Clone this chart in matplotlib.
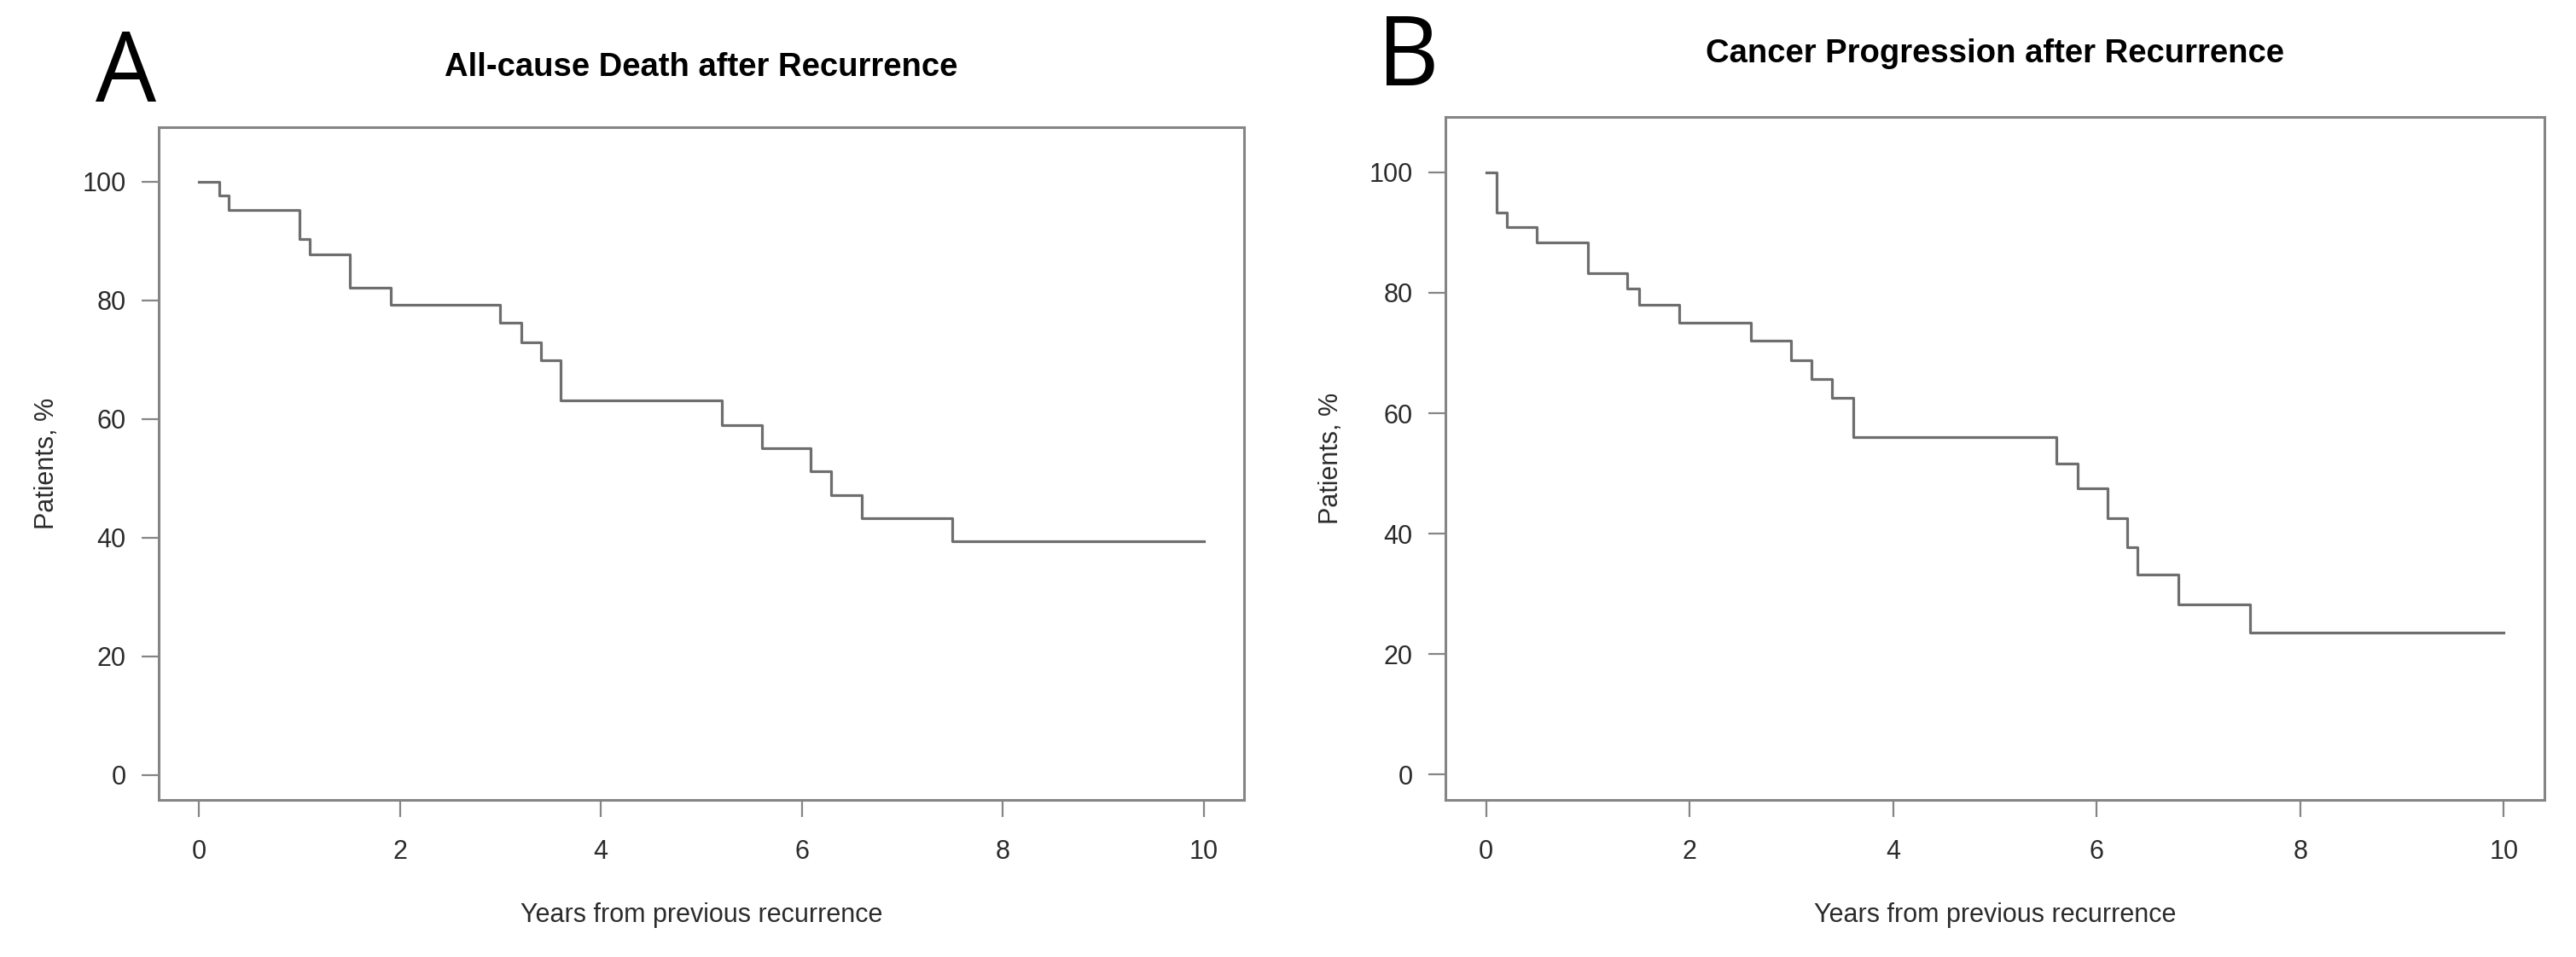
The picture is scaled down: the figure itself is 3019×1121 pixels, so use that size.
import matplotlib
matplotlib.use('Agg')
import matplotlib.pyplot as plt

# Kaplan-Meier style step data
death_years = [0, 0.20, 0.30, 1.00, 1.10, 1.50, 1.91, 3.00, 3.21, 3.40, 3.60,
               5.20, 5.60, 6.09, 6.29, 6.60, 7.50, 10.0]
death_pct = [100, 97.7, 95.3, 90.3, 87.8, 82.2, 79.3, 76.2, 73.0, 69.9, 63.1,
             59.0, 55.1, 51.2, 47.2, 43.3, 39.4, 39.4]

prog_years = [0, 0.10, 0.20, 0.50, 1.00, 1.39, 1.50, 1.90, 2.60, 3.00, 3.20,
              3.40, 3.61, 5.60, 5.81, 6.11, 6.30, 6.40, 6.80, 7.51, 10.0]
prog_pct = [100, 93.3, 90.9, 88.4, 83.3, 80.7, 78.0, 75.0, 72.0, 68.8, 65.7,
            62.6, 56.0, 51.7, 47.5, 42.6, 37.8, 33.2, 28.3, 23.6, 23.6]

x_ticks = [0, 2, 4, 6, 8, 10]
y_ticks = [0, 20, 40, 60, 80, 100]

titles = ['All-cause Death after Recurrence', 'Cancer Progression after Recurrence']
panel_letters = ['A', 'B']
xlabel = 'Years from previous recurrence'
ylabel = 'Patients, %'

plt.rcParams['font.family'] = ['Liberation Sans', 'DejaVu Sans']

W, H = 3019, 1121
fig = plt.figure(figsize=(W / 100, H / 100), dpi=100)

line_col = '#6e6e6e'
frame_col = '#858585'
text_col = '#2b2b2b'

# axes boxes in pixels: left, right, top, bottom
boxes = [(186, 1458, 149, 937), (1694, 2982, 137, 937)]
letter_pos = [(112, 119), (1614, 100)]
title_base = [89, 73]
ylab_x = [55, 1560]

series = [(death_years, death_pct), (prog_years, prog_pct)]

for i, (l, r, t, b) in enumerate(boxes):
    ax = fig.add_axes([l / W, 1 - b / H, (r - l) / W, (b - t) / H])
    xs, ys = series[i]
    ax.step(xs, ys, where='post', color=line_col, linewidth=2.3)
    ax.set_xlim(-0.4, 10.4)
    ax.set_ylim(-4.2, 109.2)
    ax.set_xticks(x_ticks)
    ax.set_yticks(y_ticks)
    ax.tick_params(direction='out', length=14.5, width=1.6, color=frame_col,
                   labelsize=22, labelcolor=text_col)
    ax.tick_params(axis='x', pad=18.5)
    ax.tick_params(axis='y', pad=13)
    for sp in ax.spines.values():
        sp.set_color(frame_col)
        sp.set_linewidth(2.2)

    cx = (l + r) / 2
    fig.text(cx / W, 1 - title_base[i] / H, titles[i], ha='center', va='baseline',
             fontsize=27.5, fontweight='bold', color='black')
    fig.text(cx / W, 1 - 1080 / H, xlabel, ha='center', va='baseline',
             fontsize=22, color=text_col)
    fig.text(ylab_x[i] / W, 1 - (t + b) / 2 / H, ylabel, ha='center', va='center',
             rotation=90, fontsize=22, color=text_col)
    fig.text(letter_pos[i][0] / W, 1 - letter_pos[i][1] / H, panel_letters[i],
             ha='left', va='baseline', fontsize=81, color='black',
             family=['Open Sans', 'DejaVu Sans'])

fig.savefig('out.png', dpi=100, facecolor='white')
